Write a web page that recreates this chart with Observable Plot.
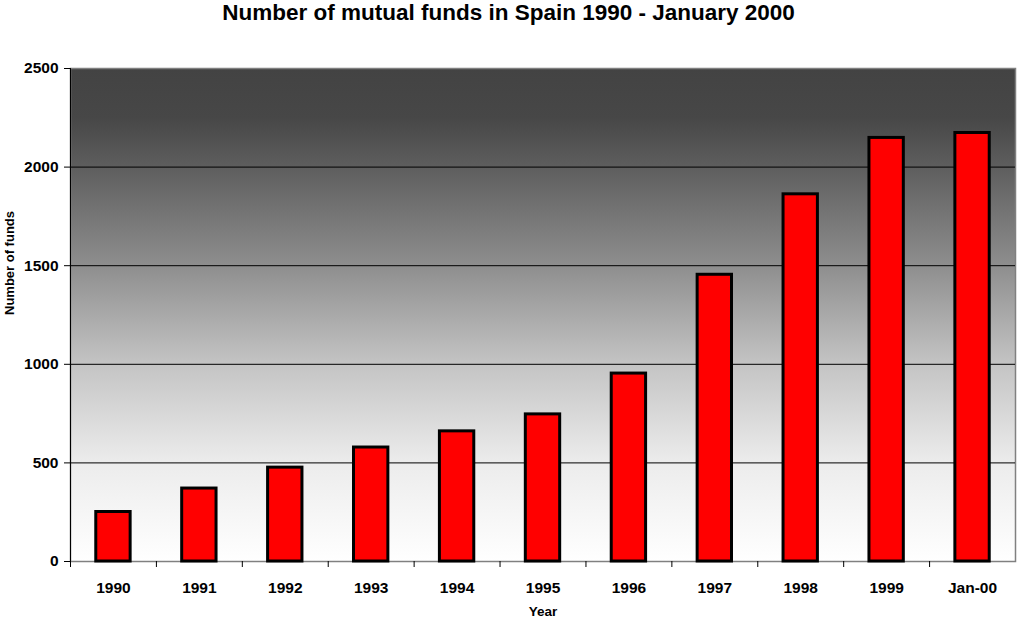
<!DOCTYPE html>
<html>
<head>
<meta charset="utf-8">
<script src="https://cdn.jsdelivr.net/npm/d3@7"></script>
<script src="https://cdn.jsdelivr.net/npm/@observablehq/plot@0.6"></script>
<style>
  body { margin: 0; background: #fff; font-family: "Liberation Sans", Arial, sans-serif; }
  #wrap { position: relative; width: 1017px; height: 625px; }
  #title { position: absolute; left: 0; top: 0; width: 1017px; text-align: center; font-weight: bold; font-size: 22.5px; line-height: 25px; color: #000; }
  svg text { font-family: "Liberation Sans", Arial, sans-serif; font-weight: bold; fill: #000; }
</style>
</head>
<body>
<div id="wrap"><div id="title">Number of mutual funds in Spain 1990 - January 2000</div><div id="chart"></div></div>
<script>
const categories = ["1990", "1991", "1992", "1993", "1994", "1995", "1996", "1997", "1998", "1999", "Jan-00"];
const funds = [251, 370, 476, 578, 660, 746, 953, 1454, 1862, 2148, 2173];
const yTicks = [0, 500, 1000, 1500, 2000, 2500];
const gridTicks = [500, 1000, 1500, 2000];

const data = categories.map((c, i) => ({year: c, funds: funds[i]}));

const W = 1017, H = 625, mL = 70, mR = 2, mT = 68, mB = 64;
const bw = (W - mL - mR) / categories.length;

const plot = Plot.plot({
  width: W, height: H,
  marginLeft: mL, marginRight: mR, marginTop: mT, marginBottom: mB,
  style: {background: "transparent", fontFamily: "Liberation Sans, Arial, sans-serif"},
  x: {domain: categories, paddingInner: 0.6, paddingOuter: 0.3, round: false, label: null},
  y: {domain: [0, 2500], label: null},
  marks: [
    Plot.frame({fill: "url(#bggrad)", stroke: "#808080", strokeWidth: 1.5}),
    Plot.gridY(gridTicks, {stroke: "#000", strokeOpacity: 1, strokeWidth: 1}),
    Plot.barY(data, {x: "year", y: "funds", fill: "#ff0000", stroke: "#000", strokeWidth: 3}),
    Plot.frame({anchor: "left", stroke: "#000", strokeWidth: 1}),
    Plot.axisY({ticks: yTicks, tickSize: 6, tickPadding: 6, tickFormat: d => String(d), fontSize: 15.5, fontWeight: "bold", label: null}),
    Plot.axisX({tickSize: 0, tickPadding: 20, fontSize: 15.5, fontWeight: "bold", label: null}),
    Plot.axisX({tickSize: 6, dx: -bw / 2, tickFormat: () => "", label: null}),
    Plot.text(["Number of funds"], {frameAnchor: "left", rotate: -90, dx: -61, fontSize: 13, fontWeight: "bold"}),
    Plot.text(["Year"], {frameAnchor: "bottom", dy: 54, fontSize: 13.5, fontWeight: "bold"})
  ]
});

const ns = "http://www.w3.org/2000/svg";
const defs = document.createElementNS(ns, "defs");
const grad = document.createElementNS(ns, "linearGradient");
grad.setAttribute("id", "bggrad");
grad.setAttribute("x1", "0"); grad.setAttribute("y1", "0");
grad.setAttribute("x2", "0"); grad.setAttribute("y2", "1");
[["0%", "#434343"], ["10%", "#474747"], ["20%", "#5e5e5e"], ["40%", "#8e8e8e"], ["60%", "#c4c4c4"], ["80%", "#ececec"], ["100%", "#ffffff"]].forEach(([o, c]) => {
  const s = document.createElementNS(ns, "stop");
  s.setAttribute("offset", o); s.setAttribute("stop-color", c);
  grad.appendChild(s);
});
defs.appendChild(grad);
plot.insertBefore(defs, plot.firstChild);
document.getElementById("chart").appendChild(plot);
</script>
</body>
</html>
